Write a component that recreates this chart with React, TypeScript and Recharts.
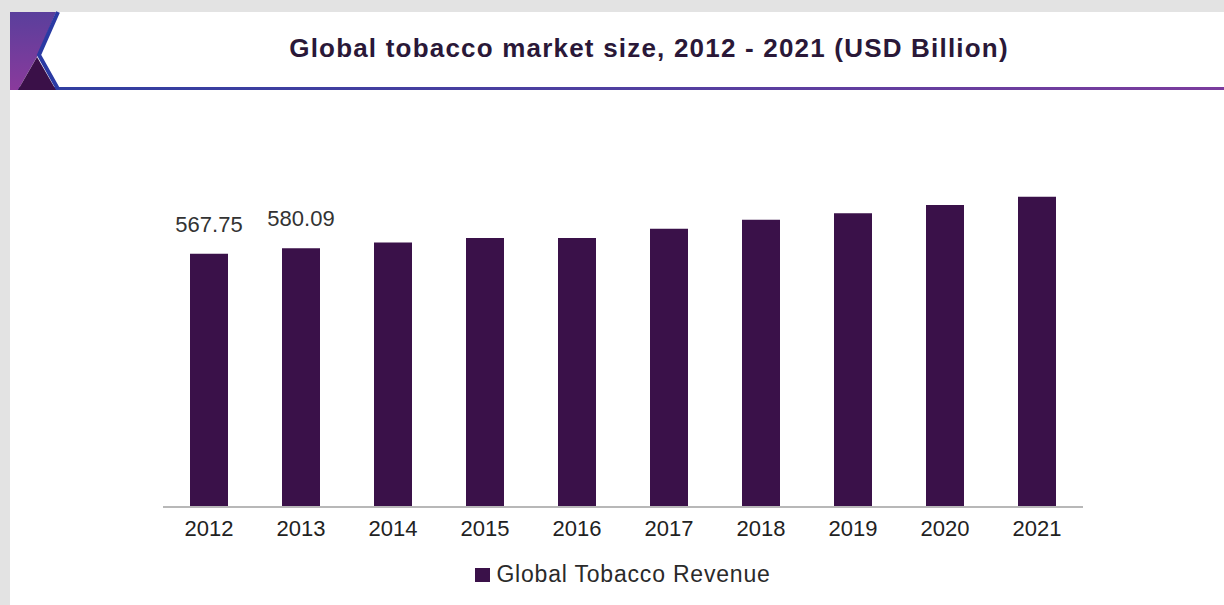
import React from "react";
import { BarChart, Bar, XAxis, YAxis, LabelList, Legend } from "recharts";

const years = ["2012", "2013", "2014", "2015", "2016", "2017", "2018", "2019", "2020", "2021"];
const revenue = [567.75, 580.09, 592.5, 603.0, 602.8, 623.5, 643.5, 658.0, 677.0, 695.0];
const shownLabels = ["567.75", "580.09", null, null, null, null, null, null, null, null];
const seriesName = "Global Tobacco Revenue";
const title = "Global tobacco market size, 2012 - 2021 (USD Billion)";

const data = years.map((y, i) => ({ year: y, value: revenue[i], label: shownLabels[i] }));

const BAR_COLOR = "#3a1149";
const FONT = "Liberation Sans, Arial, sans-serif";

const LegendContent = () => (
  <div style={{ display: "flex", justifyContent: "center", alignItems: "center", fontFamily: FONT }}>
    <span style={{ display: "inline-block", width: 15, height: 14, background: BAR_COLOR, marginRight: 6 }} />
    <span style={{ fontSize: 23, color: "#2a2a2a", letterSpacing: 0.8 }}>{seriesName}</span>
  </div>
);

export default function App() {
  return (
    <div style={{ position: "absolute", left: 0, top: 0, width: 1224, height: 605, background: "#e3e3e3", overflow: "hidden" }}>
      <div style={{ position: "absolute", left: 10, top: 12, width: 1214, height: 593, background: "#ffffff" }} />
      <svg style={{ position: "absolute", left: 0, top: 0 }} width={1224} height={100}>
        <defs>
          <linearGradient id="lineGrad" x1="0" y1="0" x2="1" y2="0">
            <stop offset="0" stopColor="#2e3ea0" />
            <stop offset="0.5" stopColor="#4f3fa0" />
            <stop offset="1" stopColor="#7b3c9d" />
          </linearGradient>
          <linearGradient id="logoGrad" x1="0" y1="0" x2="0" y2="1">
            <stop offset="0" stopColor="#5a3f9c" />
            <stop offset="1" stopColor="#8a3a9c" />
          </linearGradient>
        </defs>
        <rect x={10} y={87} width={1214} height={3} fill="url(#lineGrad)" />
        <polygon points="10,12 56,12 38,55 18,90 10,90" fill="url(#logoGrad)" />
        <polygon points="18,90 37,57 56,90" fill="#3a1048" />
        <polyline points="58,12 39,55 58,89" fill="none" stroke="#2a3aa3" strokeWidth={4} />
      </svg>
      <div
        style={{
          position: "absolute",
          left: 10,
          width: 1278,
          top: 33,
          textAlign: "center",
          fontFamily: FONT,
          fontWeight: "bold",
          fontSize: 26,
          letterSpacing: 1.2,
          color: "#2a1838",
        }}
      >
        {title}
      </div>
      <div style={{ position: "absolute", left: 0, top: 0 }}>
        <BarChart
          width={1224}
          height={605}
          data={data}
          margin={{ top: 150, right: 141, bottom: 58, left: 163 }}
          barCategoryGap={27}
        >
          <XAxis
            dataKey="year"
            height={40}
            axisLine={{ stroke: "#b8b8b8", strokeWidth: 2 }}
            tickLine={false}
            tickSize={0}
            tickMargin={13}
            tick={{ fontSize: 22, fill: "#222222", fontFamily: FONT }}
            interval={0}
          />
          <YAxis hide domain={[0, 800]} />
          <Legend
            layout="horizontal"
            verticalAlign="middle"
            align="center"
            content={<LegendContent />}
            wrapperStyle={{ position: "absolute", left: 163, width: 920, top: 561 }}
          />
          <Bar dataKey="value" name={seriesName} fill={BAR_COLOR} isAnimationActive={false}>
            <LabelList dataKey="label" position="top" offset={22} style={{ fontSize: 22, fill: "#333333", fontFamily: FONT }} />
          </Bar>
        </BarChart>
      </div>
    </div>
  );
}
